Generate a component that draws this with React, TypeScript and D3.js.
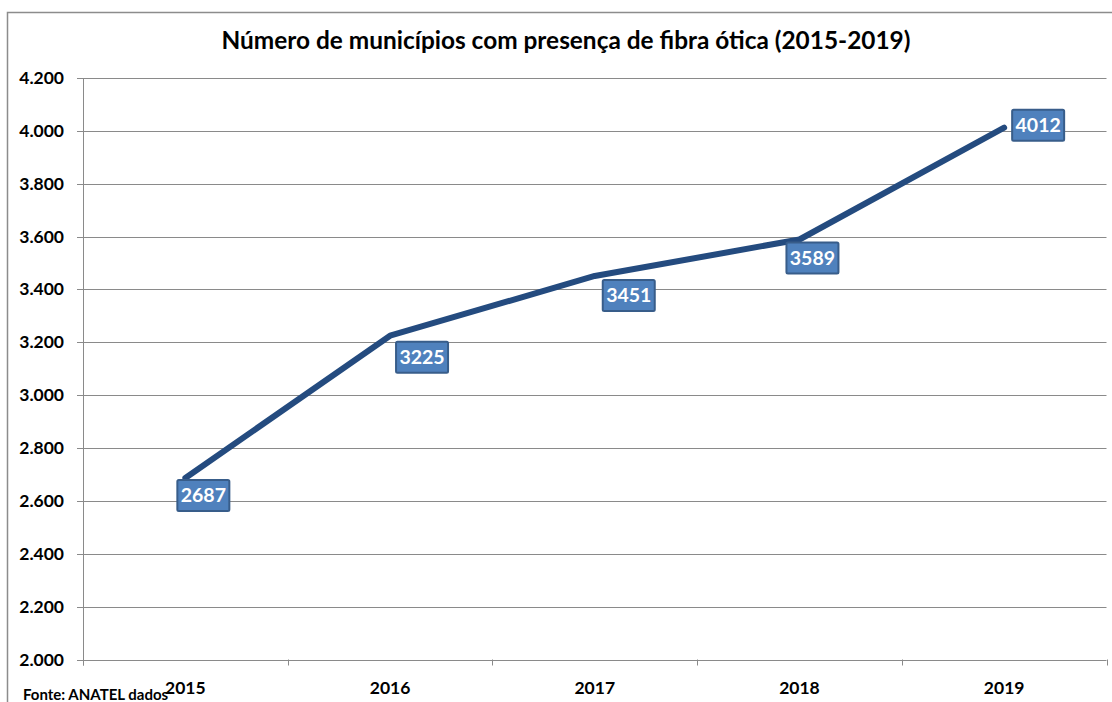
import React from "react";
import * as d3 from "d3";

const years = ["2015", "2016", "2017", "2018", "2019"];
const municipios = [2687, 3225, 3451, 3589, 4012];
const yTicks = [2000, 2200, 2400, 2600, 2800, 3000, 3200, 3400, 3600, 3800, 4000, 4200];
const title = "Número de municípios com presença de fibra ótica (2015-2019)";
const source = "Fonte: ANATEL dados";

// label box offsets relative to the point (layout only)
const labelOffsets: [number, number][] = [
  [-8, 2],
  [6, 6],
  [8, 4],
  [-13, 3],
  [8, -18],
];

const W = 1112;
const H = 702;
const left = 83;
const right = 1106.5;
const top = 78;
const bottom = 659.5;
const FONT = "Lato, 'Open Sans', sans-serif";

export default function App() {
  const x = d3.scaleBand<string>().domain(years).range([left, right]).padding(0);
  const y = d3.scaleLinear().domain([2000, 4200]).range([bottom, top]);
  const cx = (d: string) => (x(d) as number) + x.bandwidth() / 2;
  const line = d3
    .line<number>()
    .x((_, i) => cx(years[i]))
    .y((v) => y(v));
  const boxW = 52;
  const boxH = 31;
  const tickXs = [left, ...years.map((d) => (x(d) as number) + x.bandwidth())];

  return (
    <svg
      width={W}
      height={H}
      style={{ position: "absolute", left: 0, top: 0, background: "#fff" }}
    >
      <rect x={7.5} y={12.5} width={1200} height={800} fill="#fff" stroke="#8c8c8c" strokeWidth={1.5} />
      <text
        x={566}
        y={49}
        textAnchor="middle"
        fontFamily={FONT}
        fontWeight="bold"
        fontSize={24.4}
        fill="#000"
      >
        {title}
      </text>
      {yTicks.map((t) => (
        <g key={t}>
          <line x1={77} x2={right} y1={Math.round(y(t)) + 0.5} y2={Math.round(y(t)) + 0.5} stroke="#8a8a8a" strokeWidth={1} />
          <text
            x={64}
            y={y(t) + 6}
            textAnchor="end"
            fontFamily={FONT}
            fontWeight="bold"
            fontSize={17.5}
            fill="#000"
          >
            {d3.format(",")(t).replace(/,/g, ".")}
          </text>
        </g>
      ))}
      <line x1={left + 0.5} x2={left + 0.5} y1={top} y2={bottom + 6} stroke="#8a8a8a" strokeWidth={1} />
      {tickXs.map((tx, i) => (
        <line key={i} x1={Math.round(tx) + 0.5} x2={Math.round(tx) + 0.5} y1={bottom} y2={bottom + 6} stroke="#8a8a8a" strokeWidth={1} />
      ))}
      {years.map((d) => (
        <text
          key={d}
          x={cx(d)}
          y={694}
          textAnchor="middle"
          fontFamily={FONT}
          fontWeight="bold"
          fontSize={17.5}
          fill="#000"
        >
          {d}
        </text>
      ))}
      <path
        d={line(municipios) as string}
        fill="none"
        stroke="#244b7f"
        strokeWidth={6}
        strokeLinecap="round"
        strokeLinejoin="round"
      />
      {municipios.map((v, i) => {
        const px = cx(years[i]);
        const py = y(v);
        const bx = px + labelOffsets[i][0];
        const by = py + labelOffsets[i][1];
        return (
          <g key={i}>
            <rect
              x={bx}
              y={by}
              width={boxW}
              height={boxH}
              fill="#4f81bd"
              stroke="#385d8a"
              strokeWidth={2}
              rx={1.5}
            />
            <text
              x={bx + boxW / 2}
              y={by + boxH / 2 + 7}
              textAnchor="middle"
              fontFamily={FONT}
              fontWeight="bold"
              fontSize={19.5}
              fill="#fff"
            >
              {v}
            </text>
          </g>
        );
      })}
      <text x={23} y={700} fontFamily={FONT} fontWeight="bold" fontSize={15} fill="#000">
        {source}
      </text>
    </svg>
  );
}
